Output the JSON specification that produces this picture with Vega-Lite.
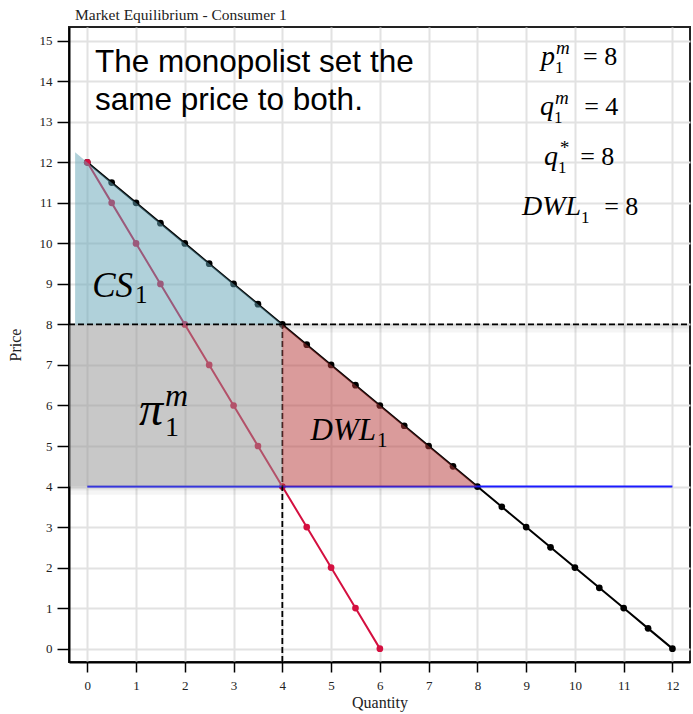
{
  "$schema": "https://vega.github.io/schema/vega-lite/v6.json",
  "width": 621,
  "height": 635,
  "autosize": "none",
  "padding": {"left": 69, "top": 27, "right": 3, "bottom": 52},
  "background": "white",
  "title": {"text": "Market Equilibrium - Consumer 1", "anchor": "start", "frame": "group", "dx": 6, "dy": 16, "offset": 8, "baseline": "alphabetic", "font": "Liberation Serif", "fontSize": 15.5, "fontWeight": "normal", "color": "#222"},
  "datasets": {
    "demand": [
      {"q": 0, "p": 12}, {"q": 0.5, "p": 11.5}, {"q": 1, "p": 11}, {"q": 1.5, "p": 10.5}, {"q": 2, "p": 10},
      {"q": 2.5, "p": 9.5}, {"q": 3, "p": 9}, {"q": 3.5, "p": 8.5}, {"q": 4, "p": 8}, {"q": 4.5, "p": 7.5},
      {"q": 5, "p": 7}, {"q": 5.5, "p": 6.5}, {"q": 6, "p": 6}, {"q": 6.5, "p": 5.5}, {"q": 7, "p": 5},
      {"q": 7.5, "p": 4.5}, {"q": 8, "p": 4}, {"q": 8.5, "p": 3.5}, {"q": 9, "p": 3}, {"q": 9.5, "p": 2.5},
      {"q": 10, "p": 2}, {"q": 10.5, "p": 1.5}, {"q": 11, "p": 1}, {"q": 11.5, "p": 0.5}, {"q": 12, "p": 0}
    ],
    "mr": [
      {"q": 0, "p": 12}, {"q": 0.5, "p": 11}, {"q": 1, "p": 10}, {"q": 1.5, "p": 9}, {"q": 2, "p": 8},
      {"q": 2.5, "p": 7}, {"q": 3, "p": 6}, {"q": 3.5, "p": 5}, {"q": 4, "p": 4}, {"q": 4.5, "p": 3},
      {"q": 5, "p": 2}, {"q": 5.5, "p": 1}, {"q": 6, "p": 0}
    ],
    "mc": [{"q": 0, "p": 4}, {"q": 12, "p": 4}],
    "vdash": [{"q": 4, "q2": 4, "p": -0.33, "p2": 8}],
    "hdash": [{"q": -0.375, "q2": 12.36, "p": 8, "p2": 8}],
    "shadow": [
      {"q": -0.375, "q2": 8.1, "p": 3.8, "p2": 4},
      {"q": 4, "q2": 12.36, "p": 7.8, "p2": 8}
    ],
    "shadow2": [
      {"q": -0.375, "q2": 8.05, "p": 3.9, "p2": 4},
      {"q": 4, "q2": 12.36, "p": 7.9, "p2": 8}
    ],
    "pi": [{"q": -0.375, "q2": 4, "p": 4, "p2": 8}],
    "cs": [{"q": -0.25, "p": 12.25, "p2": 8}, {"q": 4, "p": 8, "p2": 8}],
    "dwl": [{"q": 4, "p": 8, "p2": 4}, {"q": 8, "p": 4, "p2": 4}],
    "note": [
      {"q": 0.158, "p": 14.23, "t": "The monopolist set the"},
      {"q": 0.158, "p": 13.30, "t": "same price to both."}
    ],
    "mathL": [
      {"q": 9.594, "p": 14.409, "base": "p", "sub": "1", "sup": "m"},
      {"q": 9.573, "p": 13.175, "base": "q", "sub": "1", "sup": "m"},
      {"q": 9.655, "p": 11.942, "base": "q", "sub": "1", "sup": "*"},
      {"q": 10.127, "p": 10.708, "base": "DWL", "sub": "1", "sup": ""}
    ],
    "mathR": [
      {"q": 10.168, "p": 14.409, "t": "= 8"},
      {"q": 10.189, "p": 13.175, "t": "= 4"},
      {"q": 10.107, "p": 11.942, "t": "= 8"},
      {"q": 10.599, "p": 10.708, "t": "= 8"}
    ],
    "reg": [
      {"name": "cs", "q": 0.94, "p": 8.685, "base": "CS", "sub": "1", "sup": ""},
      {"name": "pi", "q": 1.553, "p": 5.527, "base": "π", "sub": "1", "sup": "m"},
      {"name": "dwl", "q": 5.922, "p": 5.157, "base": "DWL", "sub": "1", "sup": ""}
    ]
  },
  "encoding": {
    "x": {"field": "q", "type": "quantitative", "scale": {"domain": [-0.375, 12.36], "nice": false, "zero": false},
          "axis": {"values": [0,1,2,3,4,5,6,7,8,9,10,11,12], "title": "Quantity"}},
    "y": {"field": "p", "type": "quantitative", "scale": {"domain": [-0.33, 15.34], "nice": false, "zero": false},
          "axis": {"values": [0,1,2,3,4,5,6,7,8,9,10,11,12,13,14,15], "title": "Price"}}
  },
  "layer": [
    {"data": {"name": "demand"}, "mark": {"type": "line", "color": "black", "strokeWidth": 2, "point": {"filled": true, "size": 45, "color": "black"}}},
    {"data": {"name": "mr"}, "mark": {"type": "line", "color": "#d41040", "strokeWidth": 2, "point": {"filled": true, "size": 45, "color": "#d41040"}}},
    {"data": {"name": "mc"}, "mark": {"type": "line", "color": "#1a1aff", "strokeWidth": 2}, "encoding": {}},
    {"data": {"name": "vdash"}, "mark": {"type": "rule", "color": "black", "strokeWidth": 1.8, "strokeDash": [6, 3]},
     "encoding": {"x2": {"field": "q2"}, "y2": {"field": "p2"}}},
    {"data": {"name": "shadow"}, "mark": {"type": "rect", "color": "#000", "opacity": 0.04},
     "encoding": {"x2": {"field": "q2"}, "y2": {"field": "p2"}}},
    {"data": {"name": "shadow2"}, "mark": {"type": "rect", "color": "#000", "opacity": 0.05},
     "encoding": {"x2": {"field": "q2"}, "y2": {"field": "p2"}}},
    {"data": {"name": "pi"}, "mark": {"type": "rect", "color": "#919191", "opacity": 0.5},
     "encoding": {"x2": {"field": "q2"}, "y2": {"field": "p2"}}},
    {"data": {"name": "cs"}, "mark": {"type": "area", "color": "#61a3b5", "opacity": 0.5},
     "encoding": {"y2": {"field": "p2"}}},
    {"data": {"name": "dwl"}, "mark": {"type": "area", "color": "#b53737", "opacity": 0.5},
     "encoding": {"y2": {"field": "p2"}}},
    {"data": {"name": "hdash"}, "mark": {"type": "rule", "color": "black", "strokeWidth": 1.8, "strokeDash": [6, 3]},
     "encoding": {"x2": {"field": "q2"}, "y2": {"field": "p2"}}},
    {"data": {"name": "note"}, "mark": {"type": "text", "align": "left", "baseline": "alphabetic", "font": "Liberation Sans", "fontSize": 31.5, "color": "black"},
     "encoding": {"text": {"field": "t"}}},
    {"data": {"name": "mathL"}, "mark": {"type": "text", "align": "right", "baseline": "alphabetic", "font": "Liberation Serif", "fontStyle": "italic", "fontSize": 28, "color": "black"},
     "encoding": {"text": {"field": "base"}}},
    {"data": {"name": "mathL"}, "mark": {"type": "text", "align": "left", "baseline": "alphabetic", "font": "Liberation Serif", "fontSize": 17, "dx": 0, "dy": 8, "color": "black"},
     "encoding": {"text": {"field": "sub"}}},
    {"data": {"name": "mathL"}, "mark": {"type": "text", "align": "left", "baseline": "alphabetic", "font": "Liberation Serif", "fontStyle": "italic", "fontSize": 19, "dx": 1, "dy": -11, "color": "black"},
     "encoding": {"text": {"field": "sup"}}},
    {"data": {"name": "mathR"}, "mark": {"type": "text", "align": "left", "baseline": "alphabetic", "font": "Liberation Serif", "fontSize": 26, "color": "black"},
     "encoding": {"text": {"field": "t"}}},
    {"data": {"name": "reg"}, "transform": [{"filter": "datum.name == 'cs'"}],
     "mark": {"type": "text", "align": "right", "baseline": "alphabetic", "font": "Liberation Serif", "fontStyle": "italic", "fontSize": 35, "color": "black"},
     "encoding": {"text": {"field": "base"}}},
    {"data": {"name": "reg"}, "transform": [{"filter": "datum.name == 'cs'"}],
     "mark": {"type": "text", "align": "left", "baseline": "alphabetic", "font": "Liberation Serif", "fontSize": 25, "dx": 2, "dy": 6, "color": "black"},
     "encoding": {"text": {"field": "sub"}}},
    {"data": {"name": "reg"}, "transform": [{"filter": "datum.name == 'pi'"}],
     "mark": {"type": "text", "align": "right", "baseline": "alphabetic", "font": "Liberation Serif", "fontStyle": "italic", "fontSize": 48, "color": "black"},
     "encoding": {"text": {"field": "base"}}},
    {"data": {"name": "reg"}, "transform": [{"filter": "datum.name == 'pi'"}],
     "mark": {"type": "text", "align": "left", "baseline": "alphabetic", "font": "Liberation Serif", "fontSize": 28, "dx": 2, "dy": 11, "color": "black"},
     "encoding": {"text": {"field": "sub"}}},
    {"data": {"name": "reg"}, "transform": [{"filter": "datum.name == 'pi'"}],
     "mark": {"type": "text", "align": "left", "baseline": "alphabetic", "font": "Liberation Serif", "fontStyle": "italic", "fontSize": 32, "dx": 2, "dy": -19, "color": "black"},
     "encoding": {"text": {"field": "sup"}}},
    {"data": {"name": "reg"}, "transform": [{"filter": "datum.name == 'dwl'"}],
     "mark": {"type": "text", "align": "right", "baseline": "alphabetic", "font": "Liberation Serif", "fontStyle": "italic", "fontSize": 31, "color": "black"},
     "encoding": {"text": {"field": "base"}}},
    {"data": {"name": "reg"}, "transform": [{"filter": "datum.name == 'dwl'"}],
     "mark": {"type": "text", "align": "left", "baseline": "alphabetic", "font": "Liberation Serif", "fontSize": 21, "dx": 1, "dy": 7, "color": "black"},
     "encoding": {"text": {"field": "sub"}}}
  ],
  "config": {
    "view": {"stroke": "#222", "strokeWidth": 2},
    "axis": {
      "grid": true, "gridColor": "#e2e2e2", "gridWidth": 2,
      "domainColor": "black", "domainWidth": 2,
      "tickColor": "black", "tickWidth": 1.5,
      "labelFont": "Liberation Serif", "labelFontSize": 13, "labelColor": "#222",
      "titleFont": "Liberation Serif", "titleFontSize": 16, "titleFontWeight": "normal", "titleColor": "#222"
    },
    "axisX": {"tickSize": 10, "labelPadding": 7, "titlePadding": 2},
    "axisY": {"tickSize": 12, "labelPadding": 5, "titlePadding": 16}
  }
}
